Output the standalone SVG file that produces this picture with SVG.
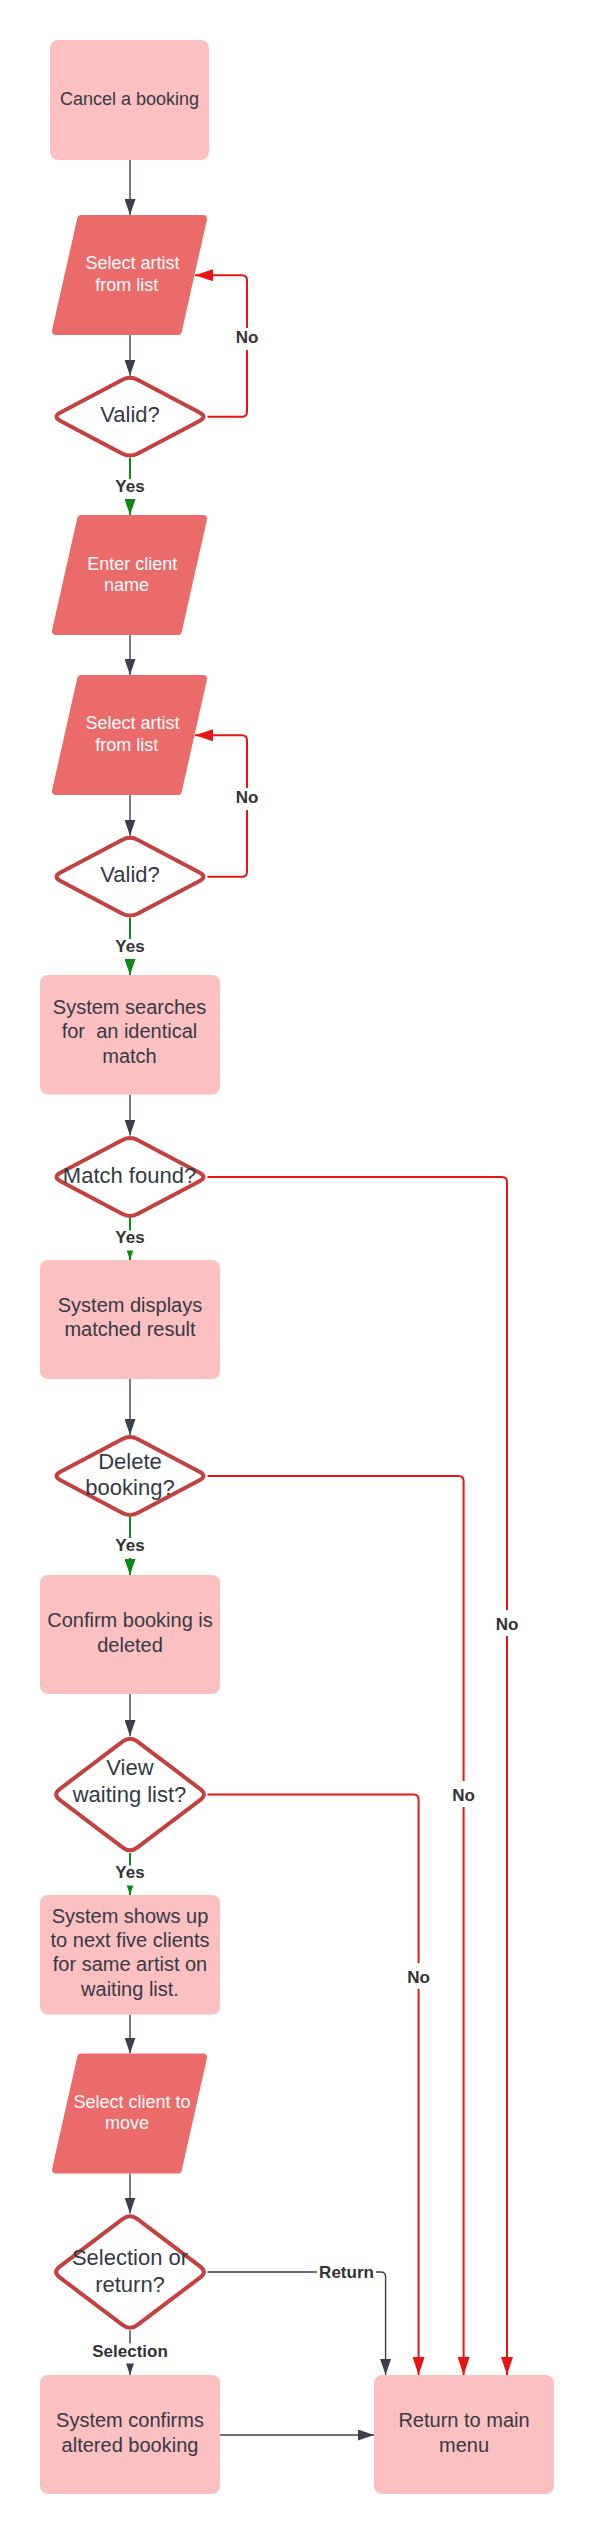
<svg xmlns="http://www.w3.org/2000/svg" xmlns:xlink="http://www.w3.org/1999/xlink" width="594" height="2535" viewBox="0 0 594 2535">
<style>
.box{fill:#FDC0C0}
.para{fill:#EA6B6A;stroke:#EA6B6A;stroke-width:8;stroke-linejoin:round}
.dia{fill:#fff;stroke:#C4413F;stroke-width:4;stroke-linejoin:round}
.t{font-family:"Liberation Sans",Arial,sans-serif;font-size:20px;fill:#333a44;text-anchor:middle}
.s18{font-size:18px}
.w{fill:#ffffff}
.s22{font-size:22px}
.lbl{font-family:"Liberation Sans",Arial,sans-serif;font-size:17px;font-weight:bold;fill:#333;text-anchor:middle}
.bg{fill:#fff}
.dk{fill:none;stroke:#39404A;stroke-width:1.4}
.rd{fill:none;stroke:#E81313;stroke-width:2}
.gr{fill:none;stroke:#0A8A12;stroke-width:2}
</style>
<defs>
<marker id="ad" markerUnits="userSpaceOnUse" markerWidth="16" markerHeight="11" refX="16" refY="5.5" orient="auto" viewBox="0 0 16 11"><path d="M0,0 L16,5.5 L0,11 Z" fill="#39404A"/></marker>
<marker id="ar" markerUnits="userSpaceOnUse" markerWidth="18" markerHeight="12" refX="18" refY="6" orient="auto" viewBox="0 0 18 12"><path d="M0,0 L18,6 L0,12 Z" fill="#E81313"/></marker>
<marker id="ag" markerUnits="userSpaceOnUse" markerWidth="16" markerHeight="11" refX="16" refY="5.5" orient="auto" viewBox="0 0 16 11"><path d="M0,0 L16,5.5 L0,11 Z" fill="#0A8A12"/></marker>
<polygon id="para" class="para" points="81.2,4 203,4 177.8,116 56,116"/>
<path id="dS" class="dia" d="M7.96,-36.8 L69.5,-4.2 Q77.5,0 69.5,4.2 L7.96,36.8 Q0,41 -7.96,36.8 L-69.5,4.2 Q-77.5,0 -69.5,-4.2 L-7.96,-36.8 Q0,-41 7.96,-36.8 Z"/>
<path id="dL" class="dia" d="M7.2,-53.1 L70.3,-5.4 Q77.5,0 70.3,5.4 L7.2,53.1 Q0,58.5 -7.2,53.1 L-70.3,5.4 Q-77.5,0 -70.3,-5.4 L-7.2,-53.1 Q0,-58.5 7.2,-53.1 Z"/>
</defs>
<rect width="594" height="2535" fill="#fff"/>

<g id="connectors">
<path class="dk" d="M130,160 L130,215" marker-end="url(#ad)"/>
<path class="dk" d="M130,335 L130,375.7" marker-end="url(#ad)"/>
<path class="dk" d="M130,635 L130,675" marker-end="url(#ad)"/>
<path class="dk" d="M130,795 L130,835.7" marker-end="url(#ad)"/>
<path class="dk" d="M130,1094.5 L130,1135.5" marker-end="url(#ad)"/>
<path class="dk" d="M130,1379 L130,1435" marker-end="url(#ad)"/>
<path class="dk" d="M130,1694 L130,1736" marker-end="url(#ad)"/>
<path class="dk" d="M130,2014.6 L130,2053.6" marker-end="url(#ad)"/>
<path class="dk" d="M130,2173.6 L130,2213.5" marker-end="url(#ad)"/>
<path class="dk" d="M130,2330.5 L130,2375" marker-end="url(#ad)"/>
<path class="dk" d="M207.5,2272 L380.6,2272 Q385.6,2272 385.6,2277 L385.6,2375" marker-end="url(#ad)"/>
<path class="dk" d="M220,2435 L374,2435" marker-end="url(#ad)"/>
<path class="gr" d="M130,457.7 L130,515" marker-end="url(#ag)"/>
<path class="gr" d="M130,917.7 L130,975" marker-end="url(#ag)"/>
<path class="gr" d="M130,1218 L130,1260" marker-end="url(#ag)"/>
<path class="gr" d="M130,1517 L130,1575" marker-end="url(#ag)"/>
<path class="gr" d="M130,1853 L130,1895" marker-end="url(#ag)"/>
<path class="rd" d="M207.5,416.7 L242,416.7 Q247,416.7 247,411.7 L247,280.3 Q247,275.3 242,275.3 L195,275.3" marker-end="url(#ar)"/>
<path class="rd" d="M207.5,876.7 L242,876.7 Q247,876.7 247,871.7 L247,740.3 Q247,735.3 242,735.3 L195,735.3" marker-end="url(#ar)"/>
<path class="rd" d="M207.5,1177 L502,1177 Q507,1177 507,1182 L507,2375" marker-end="url(#ar)"/>
<path class="rd" d="M207.5,1476 L458.6,1476 Q463.6,1476 463.6,1481 L463.6,2375" marker-end="url(#ar)"/>
<path class="rd" d="M207.5,1794.5 L413.6,1794.5 Q418.6,1794.5 418.6,1799.5 L418.6,2375" marker-end="url(#ar)"/>

<rect class="bg" x="233" y="328" width="28" height="22"/><text class="lbl" x="247" y="343">No</text>
<rect class="bg" x="233" y="788" width="28" height="22"/><text class="lbl" x="247" y="803">No</text>
<rect class="bg" x="113" y="479" width="34" height="20"/><text class="lbl" x="130" y="492">Yes</text>
<rect class="bg" x="113" y="939" width="34" height="20"/><text class="lbl" x="130" y="951.7">Yes</text>
<rect class="bg" x="113" y="1230.5" width="34" height="20"/><text class="lbl" x="130" y="1243.3">Yes</text>
<rect class="bg" x="113" y="1538" width="34" height="20"/><text class="lbl" x="130" y="1551">Yes</text>
<rect class="bg" x="113" y="1865.5" width="34" height="20"/><text class="lbl" x="130" y="1878.3">Yes</text>
<rect class="bg" x="89" y="2343.5" width="82" height="20"/><text class="lbl" x="130" y="2356.5">Selection</text>
<rect class="bg" x="493" y="1610" width="28" height="26"/><text class="lbl" x="507" y="1630">No</text>
<rect class="bg" x="449.6" y="1781" width="28" height="26"/><text class="lbl" x="463.6" y="1801">No</text>
<rect class="bg" x="404.6" y="1963" width="28" height="26"/><text class="lbl" x="418.6" y="1982.7">No</text>
<rect class="bg" x="317" y="2263" width="59" height="20"/><text class="lbl" x="346.5" y="2278">Return</text>
</g>

<g id="n-cancel"><rect class="box" x="50" y="40" width="159" height="120" rx="8"/><text class="t s18" x="129.5" y="104.5">Cancel a booking</text></g>

<g id="n-select-artist-1"><use xlink:href="#para" href="#para" x="0" y="215"/><text class="t s18 w" x="132.5" y="269">Select artist</text><text class="t s18 w" x="126.7" y="290.6">from list</text></g>

<g id="n-valid-1"><use xlink:href="#dS" href="#dS" x="130" y="416.7"/><text class="t s22" x="130" y="421.5">Valid?</text></g>

<g id="n-client-name"><use xlink:href="#para" href="#para" x="0" y="515"/><text class="t s18 w" x="132.3" y="569.5">Enter client</text><text class="t s18 w" x="126.5" y="591">name</text></g>

<g id="n-select-artist-2"><use xlink:href="#para" href="#para" x="0" y="675"/><text class="t s18 w" x="132.5" y="729">Select artist</text><text class="t s18 w" x="126.7" y="750.6">from list</text></g>

<g id="n-valid-2"><use xlink:href="#dS" href="#dS" x="130" y="876.7"/><text class="t s22" x="130" y="881.5">Valid?</text></g>

<g id="n-search"><rect class="box" x="40" y="975" width="180" height="119.5" rx="8"/><text class="t" x="129.5" y="1014">System searches</text><text class="t" x="129.5" y="1038.3" xml:space="preserve" style="white-space:pre">for  an identical</text><text class="t" x="129.5" y="1062.6">match</text></g>

<g id="n-match-found"><use xlink:href="#dS" href="#dS" x="130" y="1177"/><text class="t s22" x="129.5" y="1182.7">Match found?</text></g>

<g id="n-display"><rect class="box" x="40" y="1260" width="180" height="119" rx="8"/><text class="t" x="130" y="1312">System displays</text><text class="t" x="130" y="1336.3">matched result</text></g>

<g id="n-delete"><use xlink:href="#dS" href="#dS" x="130" y="1476"/><text class="t s22" x="130" y="1469">Delete</text><text class="t s22" x="130" y="1495">booking?</text></g>

<g id="n-confirm"><rect class="box" x="40" y="1575" width="180" height="119" rx="8"/><text class="t" x="130" y="1627">Confirm booking is</text><text class="t" x="130" y="1651.5">deleted</text></g>

<g id="n-view-waiting"><use xlink:href="#dL" href="#dL" x="130" y="1794.5"/><text class="t s22" x="130" y="1775">View</text><text class="t s22" x="129.5" y="1801.7">waiting list?</text></g>

<g id="n-shows"><rect class="box" x="40" y="1895" width="180" height="119.6" rx="8"/><text class="t" x="130" y="1922.7">System shows up</text><text class="t" x="130" y="1947">to next five clients</text><text class="t" x="130" y="1971.3">for same artist on</text><text class="t" x="130" y="1995.6">waiting list.</text></g>

<g id="n-select-client"><use xlink:href="#para" href="#para" x="0" y="2053.6"/><text class="t s18 w" x="132" y="2107.8">Select client to</text><text class="t s18 w" x="127" y="2129.4">move</text></g>

<g id="n-selection-return"><use xlink:href="#dL" href="#dL" x="130" y="2272"/><text class="t s22" x="130" y="2265">Selection or</text><text class="t s22" x="130" y="2291.5">return?</text></g>

<g id="n-altered"><rect class="box" x="40" y="2375" width="180" height="119" rx="8"/><text class="t" x="130" y="2427">System confirms</text><text class="t" x="130" y="2451.5">altered booking</text></g>

<g id="n-return"><rect class="box" x="374" y="2375" width="180" height="119" rx="8"/><text class="t" x="464" y="2427">Return to main</text><text class="t" x="464" y="2451.5">menu</text></g>
</svg>
